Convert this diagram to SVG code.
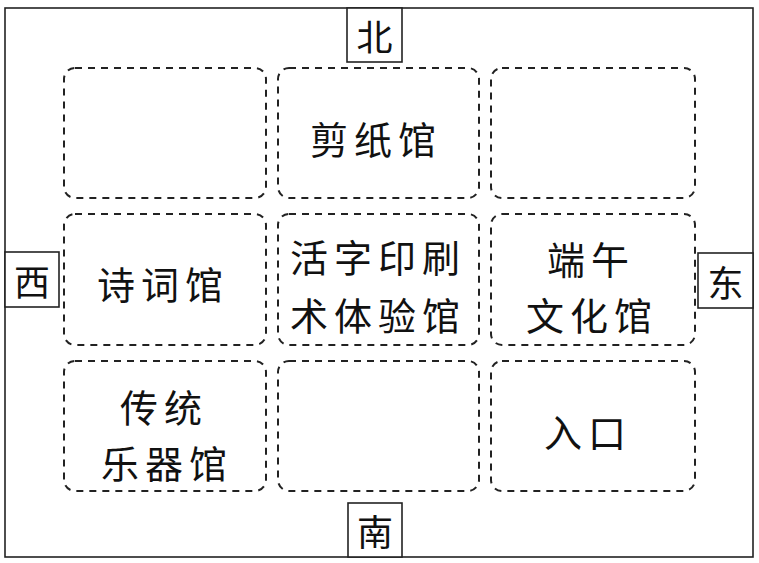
<svg xmlns="http://www.w3.org/2000/svg" width="759" height="563" viewBox="0 0 759 563">
<style>
.frame{fill:none;stroke:#222;stroke-width:1.6}
.room{fill:none;stroke:#222;stroke-width:2;stroke-dasharray:7 6;}
.dirbox{fill:#fff;stroke:#222;stroke-width:1.6}
text{font-family:"Noto Sans CJK SC","Noto Sans",sans-serif;fill:#111;dominant-baseline:central;text-anchor:middle}
.lbl{font-size:38px;letter-spacing:6px}
.dir{font-size:36px}
</style>
<rect class="frame" x="5" y="8" width="748" height="549"/>
<g id="north"><rect class="dirbox" x="347" y="8" width="55" height="54"/><text class="dir" x="374.5" y="35">北</text></g>
<g id="south"><rect class="dirbox" x="348" y="503" width="54" height="54"/><text class="dir" x="375" y="530">南</text></g>
<g id="west"><rect class="dirbox" x="5" y="252" width="54" height="55"/><text class="dir" x="32" y="279.5">西</text></g>
<g id="east"><rect class="dirbox" x="698" y="253" width="55" height="55"/><text class="dir" x="725.5" y="280.5">东</text></g>
<g id="r11"><rect class="room" x="64" y="68" width="202" height="130" rx="11"/></g>
<g id="r12"><rect class="room" x="278" y="68" width="201" height="130" rx="11"/><text class="lbl" x="376" y="137">剪纸馆</text></g>
<g id="r13"><rect class="room" x="491" y="68" width="204" height="130" rx="11"/></g>
<g id="r21"><rect class="room" x="64" y="214" width="202" height="131" rx="11"/><text class="lbl" x="163" y="282">诗词馆</text></g>
<g id="r22"><rect class="room" x="278" y="214" width="201" height="131" rx="11"/><text class="lbl" x="378" y="255">活字印刷</text><text class="lbl" x="378" y="313">术体验馆</text></g>
<g id="r23"><rect class="room" x="491" y="214" width="204" height="131" rx="11"/><text class="lbl" x="591" y="257">端午</text><text class="lbl" x="592" y="313">文化馆</text></g>
<g id="r31"><rect class="room" x="64" y="361" width="202" height="130" rx="11"/><text class="lbl" x="164" y="405">传统</text><text class="lbl" x="167" y="461">乐器馆</text></g>
<g id="r32"><rect class="room" x="278" y="361" width="201" height="130" rx="11"/></g>
<g id="r33"><rect class="room" x="491" y="361" width="204" height="130" rx="11"/><text class="lbl" x="588" y="430">入口</text></g>
<g id="connectors"></g>
</svg>
